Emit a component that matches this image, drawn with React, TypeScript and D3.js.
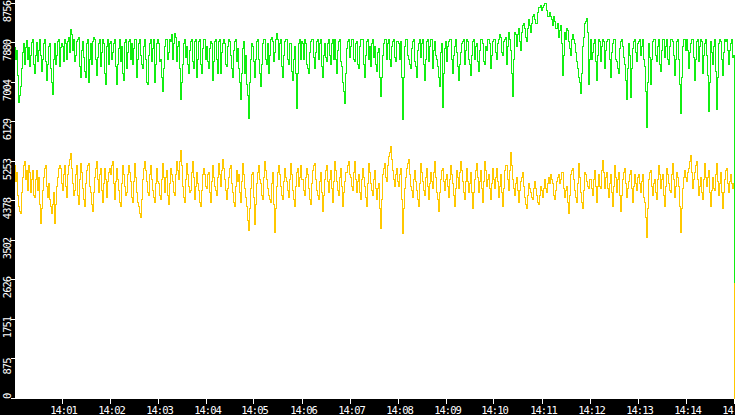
import React from "react";
import * as d3 from "d3";

// Tick labels
const yTicks = [0, 875, 1751, 2626, 3502, 4378, 5253, 6129, 7004, 7880, 8756];
const xTickLabels = ["14:01", "14:02", "14:03", "14:04", "14:05", "14:06", "14:07", "14:08", "14:09", "14:10", "14:11", "14:12", "14:13", "14:14", "14:15"];

// Green series, one block per minute (14:00 .. 14:15)
const g00 = [7760, 7500, 7700, 7150, 6560, 6700, 6900, 7300, 7650, 7850, 7400, 7780, 7920, 7500, 7780, 7350, 7600, 7880, 7950, 7400, 7200, 7600, 7880, 7450, 7700, 7950, 7600, 7250, 7500, 7850, 7950, 7450, 7050, 7400, 7800, 7850, 7300, 7000, 6740, 7500, 7850, 7400, 7600, 7900, 7950, 7350, 7780, 7850];
const g01 = [7800, 7450, 7950, 7850, 7500, 7900, 8000, 7650, 8160, 8050, 7700, 7950, 7450, 7600, 7900, 7950, 8000, 7350, 7100, 7700, 7900, 7550, 7250, 7100, 7850, 7950, 7000, 7500, 7850, 7400, 7900, 8000, 7950, 7500, 7150, 7550, 7850, 7950, 7350, 7650, 7950, 7850, 7200, 6950, 7800, 7950, 7400, 7850];
const g02 = [7900, 7500, 7650, 7850, 7950, 7350, 6950, 7400, 7750, 7950, 7450, 7800, 7200, 7050, 7880, 7950, 7300, 7650, 7900, 7950, 7500, 7850, 7400, 7750, 7950, 7950, 7100, 7500, 7850, 7950, 7600, 7400, 7300, 7800, 7950, 7500, 7000, 6950, 7600, 7850, 7950, 7450, 7750, 7950, 7000, 7400, 7850, 7950];
const g03 = [7850, 7450, 7500, 7100, 6800, 7300, 7800, 7950, 7950, 7500, 7650, 7950, 7900, 8050, 7500, 7850, 8080, 8000, 7450, 7800, 7900, 7300, 6610, 7000, 7400, 7850, 7950, 7550, 7800, 7400, 7200, 7700, 7900, 7950, 7450, 7300, 7900, 7950, 7100, 7500, 7900, 7950, 7400, 7200, 7750, 7950, 7950, 7500];
const g04 = [7800, 7450, 7300, 7750, 7900, 7850, 7050, 7450, 7900, 7950, 7500, 7200, 7900, 7950, 7200, 7650, 7850, 7950, 7850, 7400, 7350, 7800, 7950, 7900, 7600, 7300, 7100, 7700, 7900, 7950, 7450, 7750, 7300, 7000, 6610, 7200, 7750, 7900, 7200, 7600, 6950, 6700, 6190, 7000, 7500, 7850, 7800, 7450];
const g05 = [7100, 7500, 7900, 7950, 7500, 7200, 6900, 7400, 7850, 7950, 7950, 7500, 7400, 7850, 7200, 7600, 7950, 8000, 7900, 7450, 7650, 7950, 8090, 7950, 7500, 7850, 7950, 7350, 7100, 7600, 7900, 7950, 7950, 7500, 7400, 7850, 7850, 7250, 7050, 7500, 7800, 7200, 6410, 7200, 7850, 7950, 7500, 7900];
const g06 = [7850, 7500, 7950, 7850, 7400, 7300, 7200, 7650, 7900, 7950, 7950, 7550, 7300, 7650, 7900, 7950, 7500, 7850, 7950, 7350, 7100, 7600, 7850, 7550, 7450, 7850, 7950, 7600, 7400, 7850, 7950, 7500, 7950, 7500, 7200, 7700, 7900, 7950, 7450, 7350, 7000, 6800, 6520, 7200, 7750, 7900, 7950, 7550];
const g07 = [7800, 7950, 7950, 7500, 7450, 7850, 7900, 7400, 7300, 7800, 7950, 7950, 7950, 7400, 7100, 7600, 7900, 7950, 7500, 7800, 7350, 7850, 7950, 7550, 7800, 7400, 7250, 7650, 7750, 7100, 6680, 7100, 7600, 7850, 7950, 7950, 7500, 7850, 7950, 7500, 7350, 7800, 7900, 7950, 7550, 7450, 7900, 7900];
const g08 = [7850, 7500, 7900, 7100, 6170, 7100, 7800, 7950, 7950, 7600, 7500, 7400, 7300, 7750, 7900, 7950, 7450, 7350, 7100, 7700, 7850, 7950, 7550, 7850, 7950, 7400, 7050, 7500, 7900, 7950, 7450, 7800, 7950, 7950, 7300, 7700, 7900, 7600, 7500, 7350, 7100, 6900, 7650, 7850, 6450, 7200, 7750, 7900];
const g09 = [7450, 7800, 7900, 7950, 7950, 7500, 7200, 7600, 7800, 7950, 7650, 7350, 7050, 7400, 7650, 7850, 7900, 7950, 7400, 7700, 7950, 7900, 7500, 7400, 7150, 7600, 7900, 7950, 7500, 7800, 7850, 7450, 7250, 7700, 7950, 7950, 7850, 7450, 7400, 7800, 7700, 7950, 7950, 7850, 7300, 7600, 7900, 7950];
const g10 = [7950, 7650, 7500, 7850, 7950, 8050, 8000, 7650, 7600, 7900, 7950, 8000, 7400, 7800, 8100, 7950, 7700, 7200, 6680, 7500, 8100, 8050, 7800, 8050, 8200, 7900, 7700, 8100, 8250, 8300, 8200, 8000, 7900, 8200, 8400, 8250, 8100, 8300, 8450, 8500, 8400, 8300, 8300, 8550, 8650, 8650, 8700, 8600];
const g11 = [8650, 8700, 8740, 8756, 8600, 8450, 8450, 8550, 8450, 8400, 8250, 8450, 8350, 8200, 8200, 8300, 8000, 8150, 8250, 7850, 7140, 7600, 8100, 7950, 8200, 8150, 7900, 7750, 7600, 7950, 8050, 7950, 7850, 7650, 7450, 7300, 7100, 7000, 6750, 7200, 7800, 8000, 8300, 8350, 8420, 8100, 6950, 7500];
const g12 = [7950, 7500, 7650, 7850, 7950, 7450, 7050, 7600, 7950, 7900, 7450, 7800, 7950, 7900, 7300, 7700, 7900, 7950, 7950, 7500, 7100, 7650, 7850, 7950, 7950, 7500, 7450, 7300, 7200, 7750, 7900, 7950, 7800, 7550, 7400, 7050, 6610, 7300, 7850, 7600, 6655, 7300, 7750, 7900, 7950, 7650, 7450, 7850];
const g13 = [7900, 7950, 7600, 7800, 7950, 7500, 7350, 6800, 5990, 7000, 7850, 7550, 6950, 7500, 7900, 7950, 7950, 7600, 7450, 7800, 7950, 7400, 7250, 7700, 7950, 7950, 7550, 7800, 7950, 7500, 7400, 7800, 7950, 7950, 7900, 7600, 7150, 7500, 7900, 7950, 7500, 6950, 6300, 7100, 7800, 7950, 7950, 7700];
const g14 = [7950, 7700, 7300, 7650, 7850, 7950, 7950, 7550, 7050, 7500, 7900, 7950, 7450, 7800, 7950, 7900, 7200, 7600, 7850, 7950, 7600, 7150, 6350, 7000, 7900, 7650, 7400, 7800, 7950, 7250, 6400, 7100, 7850, 7950, 7900, 7500, 7150, 7650, 7950, 7900, 7950, 7700, 7400, 7700, 7850, 7950, 7550, 7600];
const gEnd = [2560];

// Yellow series, one block per minute (14:00 .. 14:15)
const y00 = [5150, 4800, 5000, 4500, 4250, 4150, 4100, 4550, 4900, 5150, 5250, 4850, 5050, 4600, 5150, 5000, 4550, 4850, 5050, 4500, 4450, 4850, 5050, 4600, 4900, 4300, 3870, 4200, 4600, 4900, 5100, 5150, 4700, 4450, 4750, 4400, 4250, 4100, 4300, 4550, 3880, 4300, 4700, 4900, 5100, 5150, 5100, 4750];
const y01 = [4600, 4950, 5150, 4700, 4450, 4950, 5150, 5300, 5420, 5100, 4750, 4500, 4600, 4950, 5150, 4500, 4300, 4850, 5200, 5000, 4650, 4400, 4250, 4750, 5050, 5150, 5200, 4700, 4550, 4300, 4150, 4550, 4900, 5100, 5250, 4850, 4550, 4950, 5100, 4600, 4350, 4750, 5100, 4850, 4450, 4800, 5000, 5100];
const y02 = [4950, 5150, 5250, 4750, 4400, 4800, 5100, 4850, 4600, 4350, 4250, 4750, 5150, 4950, 4700, 4500, 4550, 4950, 5150, 5000, 4800, 4450, 4350, 4800, 5200, 4900, 4550, 4350, 4250, 4100, 4000, 4400, 4850, 5100, 5250, 5050, 4800, 4550, 4500, 4950, 5150, 4850, 4600, 4450, 4350, 4750, 5100, 4800];
const y03 = [4750, 4500, 4400, 4850, 5200, 4900, 4550, 4900, 5050, 4500, 4300, 4750, 5100, 4950, 4800, 4550, 4500, 4950, 5250, 5050, 4850, 5250, 5500, 5150, 4700, 4450, 4350, 4850, 5200, 4950, 4700, 4550, 4600, 5000, 5250, 4900, 4400, 4700, 5000, 4750, 4600, 4350, 4250, 4600, 4950, 5100, 4950, 4700];
const y04 = [4650, 4950, 5000, 4550, 4350, 4800, 5150, 4900, 4700, 4600, 4500, 4900, 5200, 4950, 4700, 5050, 5300, 5100, 4850, 4600, 4400, 4650, 4900, 5100, 5150, 4750, 4550, 4350, 4250, 4700, 5050, 4800, 4950, 4550, 4350, 4800, 5200, 4950, 4650, 4450, 4250, 3950, 3715, 4200, 4650, 4950, 5000, 4450];
const y05 = [3850, 4300, 4750, 5000, 5150, 4850, 4750, 4500, 4400, 4900, 5250, 5050, 4850, 4650, 4500, 4400, 4350, 4750, 5000, 4300, 3670, 4200, 4700, 5000, 5150, 4950, 4700, 4500, 4400, 4800, 5100, 4900, 4800, 4600, 4450, 4850, 5200, 4950, 4600, 4400, 4250, 4700, 5000, 5100, 4700, 4900, 5150, 4850];
const y06 = [4850, 4600, 4500, 4900, 5100, 4950, 4650, 4400, 4300, 4750, 5050, 5150, 5200, 4850, 4600, 4500, 4400, 4800, 5000, 4550, 4150, 4500, 4850, 5050, 5150, 4800, 4550, 4850, 5050, 4650, 4350, 4800, 5250, 5050, 4800, 4600, 4500, 4900, 5100, 4700, 4250, 4550, 4800, 5000, 5000, 5150, 5250, 4950];
const y07 = [4900, 4700, 4600, 5000, 5250, 4850, 4550, 4800, 4950, 4550, 4400, 4850, 5100, 4900, 4700, 4450, 4250, 4750, 5200, 5000, 4750, 4600, 4500, 4850, 5050, 4650, 4400, 4650, 4750, 4200, 3760, 4400, 4950, 5100, 5200, 4900, 4800, 5150, 5350, 5450, 5570, 5300, 5050, 4850, 4700, 4950, 5100, 4800];
const y08 = [4700, 4950, 5100, 4400, 3650, 4200, 4650, 4900, 5100, 5200, 5300, 4950, 4700, 4600, 4450, 4850, 5050, 4800, 4600, 4400, 4250, 4750, 5200, 5000, 4800, 4600, 4500, 4900, 5100, 4700, 4400, 4750, 5000, 4800, 4650, 5000, 5250, 4900, 4550, 4400, 4150, 4550, 4850, 5050, 5100, 4800, 4600, 4850];
const y09 = [4950, 4700, 4450, 4850, 5150, 4950, 4750, 4500, 4250, 4650, 5050, 4900, 4650, 5000, 5250, 5050, 4800, 4550, 4400, 4800, 5100, 4800, 4550, 4750, 5000, 4550, 4200, 4550, 4850, 5050, 5200, 4900, 4550, 4800, 5050, 4650, 4350, 4800, 5250, 5050, 4700, 4850, 4950, 4650, 4400, 4750, 5100, 4850];
const y10 = [4650, 4900, 5100, 4800, 4450, 4700, 4950, 4550, 4250, 4650, 5050, 5150, 5150, 4850, 4600, 5050, 5440, 5150, 4850, 4650, 4500, 4750, 4900, 4600, 4350, 4600, 4800, 4900, 5000, 4700, 4450, 4300, 4200, 4500, 4750, 4650, 4550, 4450, 4400, 4650, 4800, 4650, 4500, 4350, 4300, 4500, 4700, 4600];
const y11 = [4450, 4650, 4850, 4650, 4550, 4750, 4900, 4750, 4950, 4850, 4750, 4500, 4400, 4600, 4800, 4900, 4950, 4750, 4850, 5000, 5000, 4650, 4450, 4600, 4700, 4350, 4100, 4500, 4950, 5050, 5100, 4850, 4600, 4450, 4350, 4750, 5200, 4900, 4550, 4350, 4200, 4600, 5000, 4950, 4800, 4700, 4650, 4850];
const y12 = [4850, 4650, 4500, 4850, 5050, 4700, 4350, 4700, 4950, 4700, 4650, 5050, 5260, 5000, 4650, 4900, 5000, 4650, 4450, 4750, 4950, 4550, 4250, 4700, 5150, 4900, 4550, 4850, 5000, 4500, 4150, 4500, 4850, 5000, 5100, 4750, 4450, 4650, 4800, 4950, 5050, 4650, 4350, 4700, 4950, 4750, 4600, 4900];
const y13 = [4950, 4750, 4550, 4800, 4950, 4450, 4350, 4000, 3560, 4200, 4850, 5000, 5050, 4700, 4500, 4750, 4850, 4550, 4400, 4850, 5150, 4950, 4650, 4850, 4950, 4500, 4250, 4700, 5100, 4950, 4750, 4600, 4550, 4950, 5200, 4850, 4450, 4700, 5000, 4900, 4700, 4250, 3670, 4200, 4650, 4900, 5050, 4900];
const y14 = [4800, 5000, 5100, 5250, 5370, 5000, 4650, 4850, 5000, 5150, 5250, 4850, 4500, 4700, 4900, 4550, 4400, 4850, 5200, 4900, 4700, 4900, 5050, 4550, 4250, 4600, 4900, 4650, 4600, 4950, 5200, 4800, 4500, 4750, 5000, 4550, 4200, 4550, 4850, 5050, 5100, 4750, 4550, 4800, 4950, 4750, 4650, 4750];
const yEnd = [0];

const greenSeries = [...g00, ...g01, ...g02, ...g03, ...g04, ...g05, ...g06, ...g07, ...g08, ...g09, ...g10, ...g11, ...g12, ...g13, ...g14, ...gEnd];
const yellowSeries = [...y00, ...y01, ...y02, ...y03, ...y04, ...y05, ...y06, ...y07, ...y08, ...y09, ...y10, ...y11, ...y12, ...y13, ...y14, ...yEnd];

const W = 735;
const H = 415;
const LEFT = 15;
const BOTTOM = 398;
const FONT = "'DejaVu Sans Mono', monospace";
const FS = 10.5;
const LS = -1;

export default function App() {
  const t0 = new Date(2020, 0, 1, 14, 0, 0);
  const t1 = new Date(2020, 0, 1, 14, 15, 0);
  const x = d3.scaleTime().domain([t0, t1]).range([14.5, 734.5]);
  const y = d3.scaleLinear().domain([0, 8756]).range([398, 2.5]);

  const timeAt = (i: number, n: number) =>
    new Date(t0.getTime() + (i * (t1.getTime() - t0.getTime())) / (n - 1));

  const mkPath = (data: number[]) =>
    d3
      .line<number>()
      .x((_, i) => Math.floor(x(timeAt(i, data.length))) + 0.5)
      .y((d) => Math.round(y(d)) + 0.5)
      .curve(d3.curveStepAfter)(data) || "";

  const fmt = d3.timeFormat("%H:%M");
  const xTicks = xTickLabels.map((lab) => {
    const [hh, mm] = lab.split(":").map(Number);
    return new Date(2020, 0, 1, hh, mm, 0);
  });

  const charW = FS * 0.602 + LS;

  return (
    <svg
      width={W}
      height={H}
      style={{ position: "absolute", left: 0, top: 0, display: "block", background: "#fff" }}
    >
      <defs>
        <clipPath id="plotclip">
          <rect x={LEFT} y={0} width={W - LEFT} height={BOTTOM + 1} />
        </clipPath>
      </defs>
      <rect x={0} y={0} width={W} height={H} fill="#fff" />
      <g clipPath="url(#plotclip)">
        <path d={mkPath(yellowSeries)} fill="none" stroke="#ffc800" strokeWidth={1} shapeRendering="crispEdges" />
        <path d={mkPath(greenSeries)} fill="none" stroke="#11ee11" strokeWidth={1} shapeRendering="crispEdges" />
      </g>
      {/* left band */}
      <rect x={0} y={0} width={LEFT} height={H} fill="#000" />
      {/* bottom band */}
      <rect x={0} y={BOTTOM + 1} width={W} height={H - BOTTOM - 1} fill="#000" />
      {yTicks.map((v) => {
        const ty = Math.round(y(v)) + 0.5;
        const label = String(v);
        const len = label.length * charW;
        let center = ty + 8;
        if (center + len / 2 > 399) center = 399 - len / 2;
        if (center - len / 2 < 1) center = 1 + len / 2;
        return (
          <g key={v}>
            <line x1={11} x2={LEFT} y1={ty} y2={ty} stroke="#fff" strokeWidth={1} shapeRendering="crispEdges" />
            <text
              transform={`translate(11,${center}) rotate(-90)`}
              textAnchor="middle"
              fill="#fff"
              fontFamily={FONT}
              fontSize={FS}
              letterSpacing={LS}
            >
              {label}
            </text>
          </g>
        );
      })}
      {xTicks.map((t) => {
        const tx = Math.round(x(t)) - 0.5;
        return (
          <g key={t.getTime()}>
            <line x1={tx} x2={tx} y1={BOTTOM + 1} y2={BOTTOM + 6} stroke="#fff" strokeWidth={1} shapeRendering="crispEdges" />
            <text x={tx + 1} y={413.5} textAnchor="middle" fill="#fff" fontFamily={FONT} fontSize={FS} letterSpacing={LS}>
              {fmt(t)}
            </text>
          </g>
        );
      })}
    </svg>
  );
}
